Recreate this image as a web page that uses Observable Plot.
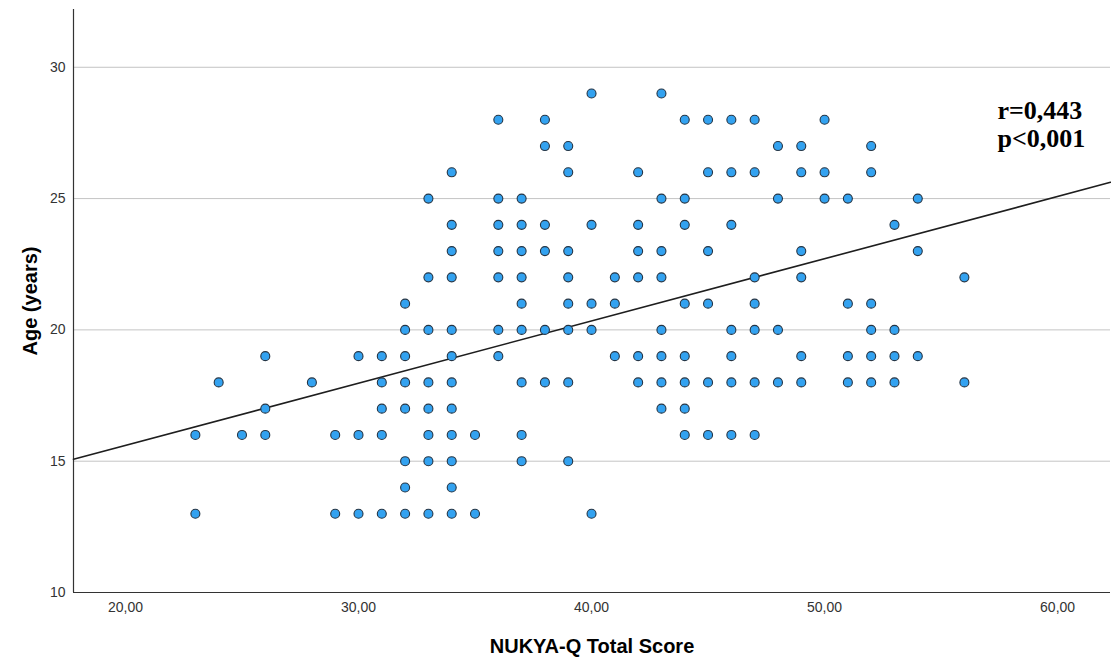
<!DOCTYPE html>
<html>
<head>
<meta charset="utf-8">
<script src="https://cdn.jsdelivr.net/npm/d3@7"></script>
<script src="https://cdn.jsdelivr.net/npm/@observablehq/plot@0.6"></script>
<style>
  html, body { margin: 0; padding: 0; background: #fff; }
</style>
</head>
<body>
<div id="chart"></div>
<script>
// NUKYA-Q total score (x) and the ages (y) observed at each score
const scores = [23, 24, 25, 26, 28, 29, 30, 31, 32, 33, 34, 35, 36, 37, 38, 39, 40, 41, 42, 43, 44, 45, 46, 47, 48, 49, 50, 51, 52, 53, 54, 56];
const agesAtScore = [
  [16, 13],
  [18],
  [16],
  [19, 17, 16],
  [18],
  [16, 13],
  [19, 16, 13],
  [19, 18, 17, 16, 13],
  [21, 20, 19, 18, 17, 15, 14, 13],
  [25, 22, 20, 18, 17, 16, 15, 13],
  [26, 24, 23, 22, 20, 19, 18, 17, 16, 15, 14, 13],
  [16, 13],
  [28, 25, 24, 23, 22, 20, 19],
  [25, 24, 23, 22, 21, 20, 18, 16, 15],
  [28, 27, 24, 23, 20, 18],
  [27, 26, 23, 22, 21, 20, 18, 15],
  [29, 24, 21, 20, 13],
  [22, 21, 19],
  [26, 24, 23, 22, 19, 18],
  [29, 25, 23, 22, 20, 19, 18, 17],
  [28, 25, 24, 21, 19, 18, 17, 16],
  [28, 26, 23, 21, 18, 16],
  [28, 26, 24, 20, 19, 18, 16],
  [28, 26, 22, 21, 20, 18, 16],
  [27, 25, 20, 18],
  [27, 26, 23, 22, 19, 18],
  [28, 26, 25],
  [25, 21, 19, 18],
  [27, 26, 21, 20, 19, 18],
  [24, 20, 19, 18],
  [25, 23, 19],
  [22, 18]
];

// Axis settings and the fit line
const xDomain = [17.77, 62.27];
const yDomain = [10, 32.2];
const xTicks = [20, 30, 40, 50, 60];
const yTicks = [10, 15, 20, 25, 30];
const gridValues = [15, 20, 25, 30];
const fitIntercept = 10.86;
const fitSlope = 0.237;
const statLines = ["r=0,443", "p<0,001"];
const statPosition = {x: 57.42, y: 28.79};

const points = scores.flatMap((s, i) => agesAtScore[i].map(a => ({score: s, age: a})));
const fitLine = xDomain.map(x => ({x, y: fitIntercept + fitSlope * x}));

const chart = Plot.plot({
  width: 1111,
  height: 659,
  marginLeft: 73,
  marginRight: 1,
  marginTop: 9,
  marginBottom: 67,
  style: {
    fontFamily: "'Liberation Sans', Arial, sans-serif",
    fontSize: "14px",
    color: "#333",
    background: "#fff",
    overflow: "visible"
  },
  x: {
    domain: xDomain,
    ticks: xTicks,
    tickFormat: d => d.toFixed(2).replace(".", ","),
    tickSize: 0,
    tickPadding: 10,
    label: null
  },
  y: {
    domain: yDomain,
    ticks: yTicks,
    tickSize: 0,
    tickPadding: 8,
    label: null
  },
  marks: [
    Plot.gridY(gridValues, {stroke: "#c4c4c4", strokeOpacity: 1, strokeWidth: 1}),
    Plot.ruleX([xDomain[0]], {stroke: "#333", strokeWidth: 1.2}),
    Plot.ruleY([yDomain[0]], {stroke: "#333", strokeWidth: 1.2}),
    Plot.line(fitLine, {x: "x", y: "y", stroke: "#1e1e1e", strokeWidth: 1.6}),
    Plot.dot(points, {x: "score", y: "age", r: 4.5, fill: "#33a2f0", stroke: "#243444", strokeWidth: 1.1}),
    Plot.text([statLines.join("\n")], {
      x: () => statPosition.x, y: () => statPosition.y,
      textAnchor: "start", lineAnchor: "top", lineHeight: 1.08,
      fontFamily: "'Liberation Serif', 'Times New Roman', serif",
      fontWeight: "bold", fontSize: 26, fill: "#000"
    }),
    Plot.text(["NUKYA-Q Total Score"], {
      frameAnchor: "bottom", dy: 54, textAnchor: "middle", lineAnchor: "middle",
      fontWeight: "bold", fontSize: 20, fill: "#000"
    }),
    Plot.text(["Age (years)"], {
      frameAnchor: "left", dx: -43, rotate: -90, textAnchor: "middle", lineAnchor: "middle",
      fontWeight: "bold", fontSize: 20, fill: "#000"
    })
  ]
});

document.getElementById("chart").appendChild(chart);
</script>
</body>
</html>
